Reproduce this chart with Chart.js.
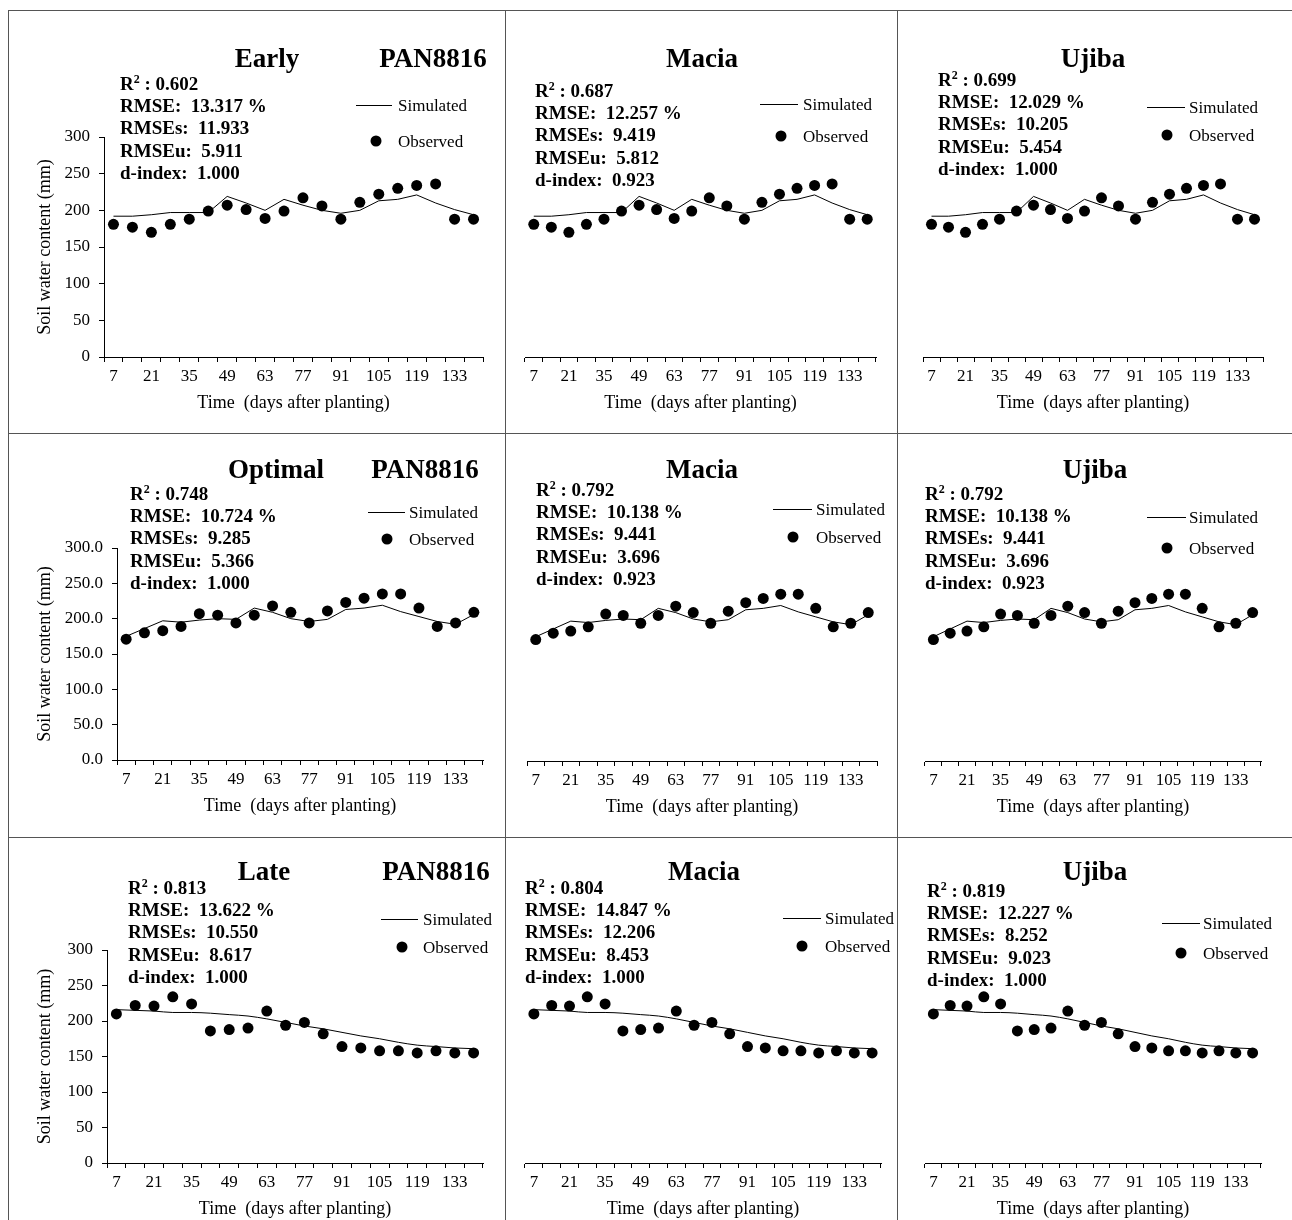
<!DOCTYPE html>
<html lang="en">
<head>
<meta charset="utf-8">
<title>Soil water content - simulated vs observed</title>
<script src="https://cdn.jsdelivr.net/npm/chart.js"></script>
<style>
  body { margin: 0; background: #fff; width: 1292px; height: 1220px; position: relative; overflow: hidden;
         font-family: "Liberation Serif", "Times New Roman", serif; color: #000; }
  .cell { position: absolute; }
  .rule { position: absolute; background: #555; }
  .txt { position: absolute; white-space: pre; line-height: 1; }
  .title { font-weight: bold; font-size: 27px; transform: translate(-50%, -50%); }
  .stat { font-weight: bold; font-size: 19px; transform: translateY(-50%); }
  .leg { font-size: 17px; transform: translateY(-50%); }
  .legline { position: absolute; height: 1px; background: #000; }
  .legdot { position: absolute; width: 11px; height: 11px; border-radius: 50%; background: #000; transform: translate(-50%, -50%); }
  sup { font-size: 12px; vertical-align: 7px; line-height: 0; }
</style>
</head>
<body>
<script>
  // x categories (days after planting)
  const days = ['7', '14', '21', '28', '35', '42', '49', '56', '63', '70',
                '77', '84', '91', '98', '105', '112', '119', '126', '133', '140'];

  // same series are shown for every cultivar of a sowing date
  const earlyObserved  = [181, 177, 170, 181, 188, 199, 207, 201, 189, 199, 217, 206, 188, 211, 222, 230, 234, 236, 188, 188];
  const earlySimulated = [192, 192, 194, 197, 197, 197, 219, 210, 200, 215, 207, 200, 196, 200, 213, 215, 221, 210, 201, 194];
  const optimalObserved  = [171, 180, 183, 189, 207, 205, 194, 205, 218, 209, 194, 211, 223, 229, 235, 235, 215, 189, 194, 209];
  const optimalSimulated = [175, 186, 197, 195, 198, 200, 199, 215, 209, 200, 196, 199, 213, 215, 219, 210, 203, 196, 192, 206];
  const lateObserved  = [210, 222, 221, 234, 224, 186, 188, 190, 214, 194, 198, 182, 164, 162, 158, 158, 155, 158, 155, 155];
  const lateSimulated = [216, 215, 214, 212, 212, 211, 209, 207, 203, 198, 193, 189, 184, 179, 175, 170, 166, 164, 162, 161];

  const sowingDates = ['Early', 'Optimal', 'Late'];
  const cultivars = ['PAN8816', 'Macia', 'Ujiba'];

  // statistics, panel order: row by row
  const r2Values   = ['0.602', '0.687', '0.699', '0.748', '0.792', '0.792', '0.813', '0.804', '0.819'];
  const rmseValues = ['13.317', '12.257', '12.029', '10.724', '10.138', '10.138', '13.622', '14.847', '12.227'];
  const rmseSValues = ['11.933', '9.419', '10.205', '9.285', '9.441', '9.441', '10.550', '12.206', '8.252'];
  const rmseUValues = ['5.911', '5.812', '5.454', '5.366', '3.696', '3.696', '8.617', '8.453', '9.023'];
  const dIndexValues = ['1.000', '0.923', '1.000', '1.000', '0.923', '0.923', '1.000', '1.000', '1.000'];

  const observedByRow = [earlyObserved, optimalObserved, lateObserved];
  const simulatedByRow = [earlySimulated, optimalSimulated, lateSimulated];

  // ---- layout (page pixels) ----
  const colEdges = [8, 505, 897, 1292];
  const rowEdges = [10, 433, 837, 1220];
  const plots = [
    { l: 104, t: 137, r: 483, b: 357 }, { l: 525, t: 137, r: 876, b: 357 }, { l: 923, t: 137, r: 1263, b: 357 },
    { l: 117, t: 548, r: 483, b: 760 }, { l: 527, t: 548, r: 877, b: 761 }, { l: 924, t: 548, r: 1261, b: 761 },
    { l: 107, t: 950, r: 483, b: 1163 }, { l: 525, t: 950, r: 881, b: 1163 }, { l: 924, t: 950, r: 1261, b: 1163 }
  ];
  const titlePos = [
    { y: 58, xs: [267, 433] }, { y: 58, xs: [702] }, { y: 58, xs: [1093] },
    { y: 469, xs: [276, 425] }, { y: 469, xs: [702] }, { y: 469, xs: [1095] },
    { y: 871, xs: [264, 436] }, { y: 871, xs: [704] }, { y: 871, xs: [1095] }
  ];
  const statPos = [
    { x: 120, y: 83 }, { x: 535, y: 90 }, { x: 938, y: 79 },
    { x: 130, y: 493 }, { x: 536, y: 489 }, { x: 925, y: 493 },
    { x: 128, y: 887 }, { x: 525, y: 887 }, { x: 927, y: 890 }
  ];
  const legPos = [
    { x1: 356, x2: 392, y: 105, dx: 376, dy: 141, tx: 398 },
    { x1: 760, x2: 798, y: 104, dx: 781, dy: 136, tx: 803 },
    { x1: 1147, x2: 1185, y: 107, dx: 1167, dy: 135, tx: 1189 },
    { x1: 368, x2: 405, y: 512, dx: 387, dy: 539, tx: 409 },
    { x1: 773, x2: 812, y: 509, dx: 793, dy: 537, tx: 816 },
    { x1: 1147, x2: 1186, y: 517, dx: 1167, dy: 548, tx: 1189 },
    { x1: 381, x2: 418, y: 919, dx: 402, dy: 947, tx: 423 },
    { x1: 783, x2: 821, y: 918, dx: 802, dy: 946, tx: 825 },
    { x1: 1162, x2: 1200, y: 923, dx: 1181, dy: 953, tx: 1203 }
  ];

  const FONT = '"Liberation Serif", "Times New Roman", serif';
  const X_AXIS_H = 57;
  const Y_TITLE_PAD = 26;

  function addDiv(cls, css, html) {
    const d = document.createElement('div');
    d.className = cls;
    Object.assign(d.style, css);
    if (html !== undefined) d.innerHTML = html;
    document.body.appendChild(d);
    return d;
  }

  for (let i = 0; i < 9; i++) {
    const row = Math.floor(i / 3), col = i % 3;
    const cell = { l: colEdges[col], r: colEdges[col + 1], t: rowEdges[row], b: rowEdges[row + 1] };
    const plot = plots[i];
    const hasY = col === 0;

    const wrap = addDiv('cell', {
      left: cell.l + 'px', top: cell.t + 'px',
      width: (cell.r - cell.l) + 'px', height: (cell.b - cell.t) + 'px'
    });
    const canvas = document.createElement('canvas');
    wrap.appendChild(canvas);

    new Chart(canvas, {
      type: 'line',
      data: {
        labels: days,
        datasets: [
          {
            label: 'Simulated',
            data: simulatedByRow[row],
            borderColor: '#000',
            borderWidth: 1,
            pointRadius: 0,
            fill: false,
            cubicInterpolationMode: row === 2 ? 'monotone' : 'default',
            tension: 0,
            order: 2
          },
          {
            label: 'Observed',
            data: observedByRow[row],
            showLine: false,
            pointRadius: 5.5,
            pointBackgroundColor: '#000',
            pointBorderColor: '#000',
            pointBorderWidth: 0,
            order: 1
          }
        ]
      },
      options: {
        responsive: true,
        maintainAspectRatio: false,
        animation: false,
        layout: {
          padding: {
            left: hasY ? Y_TITLE_PAD : plot.l - cell.l,
            top: plot.t - cell.t,
            right: cell.r - plot.r,
            bottom: cell.b - plot.b - X_AXIS_H
          }
        },
        plugins: { legend: { display: false }, tooltip: { enabled: false } },
        scales: {
          x: {
            type: 'category',
            offset: true,
            grid: { offset: true, drawOnChartArea: false, drawTicks: true, tickLength: 5, color: '#000' },
            border: { display: true, color: '#000', width: 1 },
            ticks: {
              autoSkip: false, maxRotation: 0, minRotation: 0, padding: 4, color: '#000',
              font: { family: FONT, size: 17 },
              callback: (v, idx) => (idx % 2 === 0 ? days[idx] : '')
            },
            title: {
              display: true, text: 'Time  (days after planting)', color: '#000',
              font: { family: FONT, size: 18 }, padding: 0
            },
            afterFit: s => { s.height = X_AXIS_H; }
          },
          y: {
            display: hasY,
            min: 0,
            max: 300,
            grid: { drawOnChartArea: false, drawTicks: true, tickLength: 5, color: '#000' },
            border: { display: true, color: '#000', width: 1 },
            ticks: {
              stepSize: 50, padding: 9, color: '#000',
              font: { family: FONT, size: 17 },
              callback: v => (row === 1 ? v.toFixed(1) : String(v))
            },
            title: {
              display: true, text: 'Soil water content (mm)', color: '#000',
              font: { family: FONT, size: 18 }, padding: 0
            },
            afterFit: s => { s.width = plot.l - cell.l - Y_TITLE_PAD; }
          }
        }
      }
    });

    // panel titles
    const tp = titlePos[i];
    const titles = col === 0 ? [sowingDates[row], cultivars[col]] : [cultivars[col]];
    titles.forEach((t, k) => {
      addDiv('txt title', { left: tp.xs[k] + 'px', top: tp.y + 'px' }, t);
    });

    // statistics block
    const sp = statPos[i];
    const lines = [
      'R<sup>2</sup> : ' + r2Values[i],
      'RMSE:  ' + rmseValues[i] + ' %',
      'RMSEs:  ' + rmseSValues[i],
      'RMSEu:  ' + rmseUValues[i],
      'd-index:  ' + dIndexValues[i]
    ];
    lines.forEach((t, k) => {
      addDiv('txt stat', { left: sp.x + 'px', top: (sp.y + k * 22.2) + 'px' }, t);
    });

    // legend
    const lp = legPos[i];
    addDiv('legline', { left: lp.x1 + 'px', top: lp.y + 'px', width: (lp.x2 - lp.x1) + 'px' });
    addDiv('txt leg', { left: lp.tx + 'px', top: lp.y + 'px' }, 'Simulated');
    addDiv('legdot', { left: lp.dx + 'px', top: lp.dy + 'px' });
    addDiv('txt leg', { left: lp.tx + 'px', top: lp.dy + 'px' }, 'Observed');
  }

  // table rules
  colEdges.slice(0, 3).forEach(x => {
    addDiv('rule', { left: x + 'px', top: rowEdges[0] + 'px', width: '1px', height: (1220 - rowEdges[0]) + 'px' });
  });
  rowEdges.slice(0, 3).forEach(y => {
    addDiv('rule', { left: colEdges[0] + 'px', top: y + 'px', width: (1292 - colEdges[0]) + 'px', height: '1px' });
  });
</script>
</body>
</html>
